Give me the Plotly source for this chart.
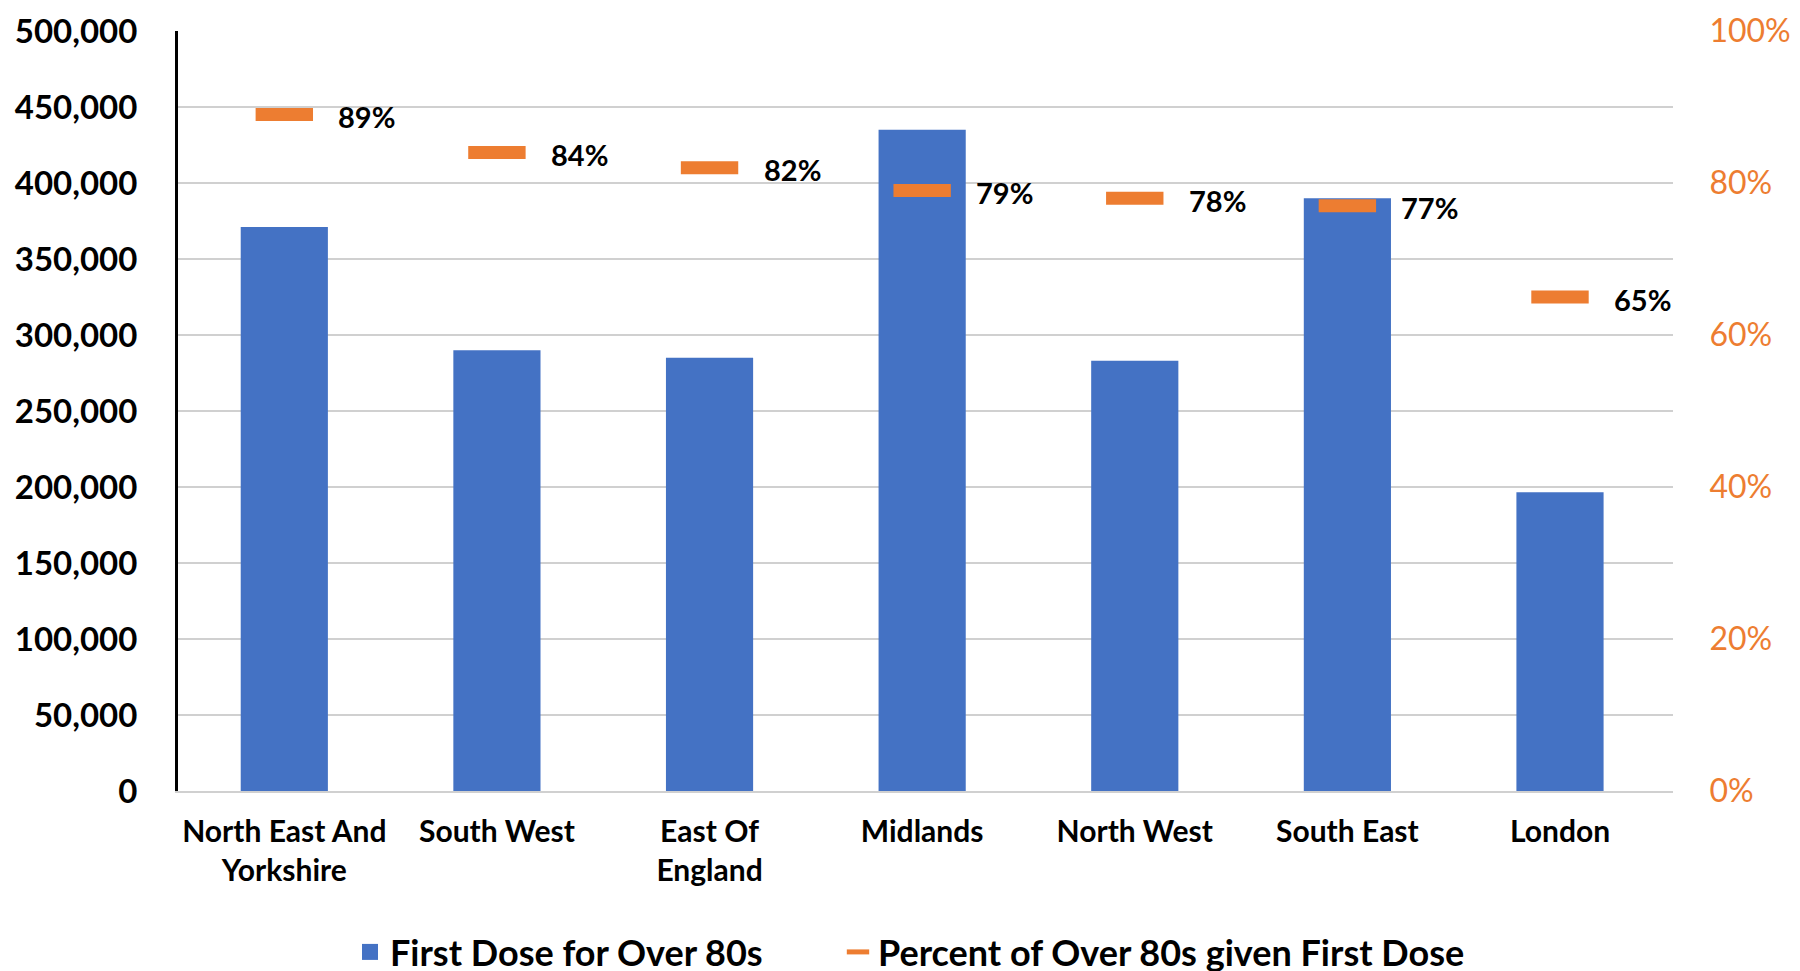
import plotly.graph_objects as go

categories = ["North East And<br>Yorkshire", "South West", "East Of<br>England", "Midlands",
              "North West", "South East", "London"]
first_dose = [371000, 290000, 285000, 435000, 283000, 390000, 196500]
percent = [0.89, 0.84, 0.82, 0.79, 0.78, 0.77, 0.65]
percent_labels = ["89%", "84%", "82%", "79%", "78%", "77%", "65%"]

left_ticks = [0, 50000, 100000, 150000, 200000, 250000, 300000, 350000, 400000, 450000, 500000]
left_tick_text = ["0", "50,000", "100,000", "150,000", "200,000", "250,000", "300,000",
                  "350,000", "400,000", "450,000", "500,000"]
right_ticks = [0, 0.2, 0.4, 0.6, 0.8, 1.0]
right_tick_text = ["0%", "20%", "40%", "60%", "80%", "100%"]

BLUE = "#4472C4"
ORANGE = "#ED7D31"
FONT = "Lato"

fig = go.Figure()
fig.add_trace(go.Bar(
    x=categories, y=first_dose, name="First Dose for Over 80s",
    marker=dict(color=BLUE, line=dict(width=0)), width=0.41, yaxis="y",
    showlegend=False,
))
fig.add_trace(go.Scatter(
    x=categories, y=percent, name="Percent of Over 80s given First Dose",
    mode="markers", yaxis="y2", showlegend=False,
    marker=dict(symbol="line-ew", size=41, color=ORANGE, line=dict(color=ORANGE, width=13)),
))
# legend-only entries
fig.add_trace(go.Scatter(
    x=[None], y=[None], mode="markers", name="First Dose for Over 80s",
    marker=dict(symbol="square", size=20, color=BLUE), yaxis="y", legend="legend",
))
fig.add_trace(go.Scatter(
    x=[None], y=[None], mode="markers", name="Percent of Over 80s given First Dose",
    marker=dict(symbol="line-ew", size=16, color=ORANGE, line=dict(color=ORANGE, width=5)),
    yaxis="y2", legend="legend2",
))

for cat, p, lab in zip(categories, percent, percent_labels):
    fig.add_annotation(
        x=cat, y=p, xref="x", yref="y2", text=lab, showarrow=False,
        xanchor="left", yanchor="middle", xshift=52, yshift=-2,
        font=dict(family=FONT, size=29, color="black", weight="bold"),
    )

legend_common = dict(
    orientation="h", xanchor="left", yref="container", y=0.0278, yanchor="middle",
    xref="container",
    font=dict(family=FONT, size=36, color="black", weight="bold"),
    itemsizing="trace", itemwidth=30, bgcolor="rgba(0,0,0,0)",
)

fig.update_layout(
    width=1800, height=971,
    margin=dict(l=170, r=135, t=23, b=188, autoexpand=False),
    plot_bgcolor="white", paper_bgcolor="white",
    font=dict(family=FONT, color="black"),
    showlegend=True,
    legend=dict(x=342 / 1800, **legend_common),
    legend2=dict(x=830 / 1800, **legend_common),
    xaxis=dict(
        type="category", showgrid=False, showline=True, linecolor="#d0d0d0", linewidth=2,
        tickfont=dict(family=FONT, size=30, color="black", weight="bold"),
        ticks="outside", ticklen=13, tickcolor="rgba(0,0,0,0)", automargin=False,
    ),
    yaxis=dict(
        range=[0, 500000], tickvals=left_ticks, ticktext=left_tick_text,
        showgrid=True, gridcolor="#d0d0d0", gridwidth=2,
        showline=True, linecolor="black", linewidth=3, zeroline=False,
        tickfont=dict(family=FONT, size=33, color="black", weight="bold"),
        ticks="outside", ticklen=31, tickcolor="rgba(0,0,0,0)", automargin=False,
        ticklabeloverflow="allow",
    ),
    yaxis2=dict(
        range=[0, 1.0], tickvals=right_ticks, ticktext=right_tick_text,
        overlaying="y", side="right", showgrid=False, showline=False, zeroline=False,
        tickfont=dict(family=FONT, size=32, color=ORANGE),
        ticks="outside", ticklen=29, tickcolor="rgba(0,0,0,0)", automargin=False,
        ticklabeloverflow="allow",
    ),
)

fig.write_html("out.html")
